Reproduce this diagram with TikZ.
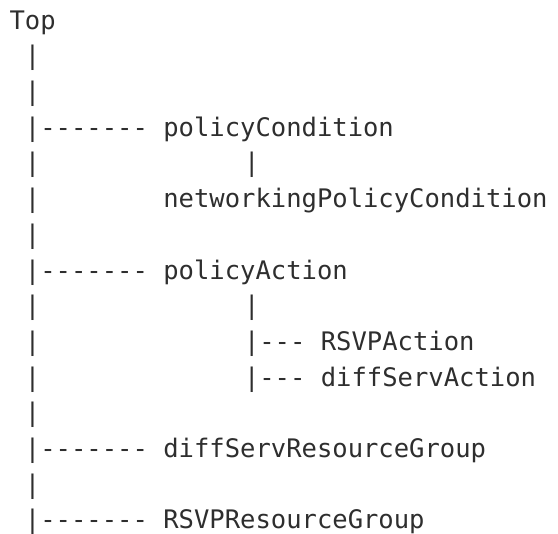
\documentclass[tikz,border=0pt]{standalone}
\usepackage{fontspec}
\newfontfamily\asciifont{DejaVu Sans Mono}
\definecolor{ink}{HTML}{2E2E2E}
\begin{document}
\begin{tikzpicture}[x=0.75pt,y=-0.75pt,
  txt/.style={anchor=base west, inner sep=0pt, outer sep=0pt,
    font=\asciifont\fontsize{19.15}{23}\selectfont, text=ink}]
\useasboundingbox (0,0) rectangle (558,533);
% row 0
\node[txt] (top) at (9.6,29) {Top};
% left trunk pipes
\node[txt] (v1) at (25,64.7) {|};
\node[txt] (v2) at (25,100.4) {|};
\node[txt] (v4) at (25,171.8) {|};
\node[txt] (v5) at (25,207.6) {|};
\node[txt] (v6) at (25,243.3) {|};
\node[txt] (v8) at (25,314.7) {|};
\node[txt] (v9) at (25,350.4) {|};
\node[txt] (v10) at (25,386.1) {|};
\node[txt] (v11) at (25,421.8) {|};
\node[txt] (v13) at (25,493.2) {|};
% branches
\node[txt] (h1) at (25,136.1) {|-------};
\node[txt] (cond) at (163.3,136.1) {policyCondition};
\node[txt] (c4) at (244,171.8) {|};
\node[txt] (netcond) at (163.3,207.6) {networkingPolicyCondition};
\node[txt] (h2) at (25,279.0) {|-------};
\node[txt] (action) at (163.3,279.0) {policyAction};
\node[txt] (c8) at (244,314.7) {|};
\node[txt] (h3) at (244,350.4) {|---};
\node[txt] (rsvpact) at (320.85,350.4) {RSVPAction};
\node[txt] (h4) at (244,386.1) {|---};
\node[txt] (dsact) at (320.85,386.1) {diffServAction};
\node[txt] (h5) at (25,457.5) {|-------};
\node[txt] (dsrg) at (163.3,457.5) {diffServResourceGroup};
\node[txt] (h6) at (25,528.9) {|-------};
\node[txt] (rsvprg) at (163.3,528.9) {RSVPResourceGroup};
\end{tikzpicture}
\end{document}
